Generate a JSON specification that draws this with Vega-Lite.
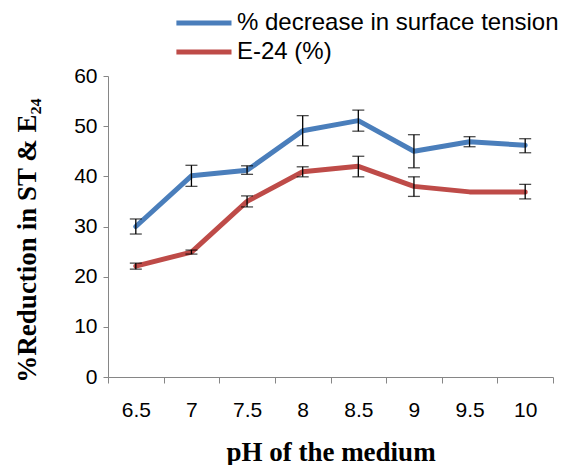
{
  "$schema": "https://vega.github.io/schema/vega-lite/v6.json",
  "width": 445,
  "height": 301,
  "autosize": "none",
  "padding": {"left": 108, "top": 76, "right": 10, "bottom": 88},
  "background": "white",
  "config": {"view": {"stroke": null}},
  "data": {
    "values": [
      {"pH": "6.5", "series": "% decrease in surface tension", "value": 30.0, "lo": 28.5, "hi": 31.5},
      {"pH": "7", "series": "% decrease in surface tension", "value": 40.1, "lo": 38.0, "hi": 42.2},
      {"pH": "7.5", "series": "% decrease in surface tension", "value": 41.2, "lo": 40.4, "hi": 42.1},
      {"pH": "8", "series": "% decrease in surface tension", "value": 49.1, "lo": 46.1, "hi": 52.1},
      {"pH": "8.5", "series": "% decrease in surface tension", "value": 51.1, "lo": 49.0, "hi": 53.2},
      {"pH": "9", "series": "% decrease in surface tension", "value": 45.0, "lo": 41.7, "hi": 48.3},
      {"pH": "9.5", "series": "% decrease in surface tension", "value": 46.9, "lo": 45.9, "hi": 47.9},
      {"pH": "10", "series": "% decrease in surface tension", "value": 46.2, "lo": 44.7, "hi": 47.5},
      {"pH": "6.5", "series": "E-24 (%)", "value": 22.1, "lo": 21.5, "hi": 22.7},
      {"pH": "7", "series": "E-24 (%)", "value": 24.9, "lo": 24.5, "hi": 25.3},
      {"pH": "7.5", "series": "E-24 (%)", "value": 35.0, "lo": 33.9, "hi": 36.1},
      {"pH": "8", "series": "E-24 (%)", "value": 40.9, "lo": 39.9, "hi": 41.9},
      {"pH": "8.5", "series": "E-24 (%)", "value": 42.0, "lo": 39.9, "hi": 44.0},
      {"pH": "9", "series": "E-24 (%)", "value": 38.0, "lo": 36.0, "hi": 39.9},
      {"pH": "9.5", "series": "E-24 (%)", "value": 36.9, "lo": null, "hi": null},
      {"pH": "10", "series": "E-24 (%)", "value": 36.9, "lo": 35.5, "hi": 38.4}
    ]
  },
  "encoding": {
    "x": {
      "field": "pH",
      "type": "ordinal",
      "sort": null,
      "scale": {"type": "band", "paddingInner": 0, "paddingOuter": 0},
      "axis": {
        "title": "pH of the medium",
        "titleFont": "Liberation Serif",
        "titleFontWeight": "bold",
        "titleFontSize": 27,
        "titleColor": "#000000",
        "titleBaseline": "middle",
        "titleY": 75,
        "labelAngle": 0,
        "labelFont": "Liberation Sans",
        "labelFontSize": 21,
        "labelColor": "#000000",
        "labelPadding": 16,
        "tickBand": "extent",
        "tickSize": 6,
        "tickColor": "#868686",
        "domainColor": "#868686",
        "grid": false
      }
    }
  },
  "layer": [
    {
      "mark": {"type": "line", "strokeWidth": 5, "strokeCap": "round", "strokeJoin": "round"},
      "encoding": {
        "y": {
          "field": "value",
          "type": "quantitative",
          "scale": {"domain": [0, 60]},
          "axis": {
            "title": "%Reduction in ST & E₂₄",
            "titleFont": "Liberation Serif",
            "titleFontWeight": "bold",
            "titleFontSize": 27,
            "titleColor": "#000000",
            "titleAngle": -90,
            "titleAlign": "center",
            "titleBaseline": "middle",
            "titleX": -81,
            "titleY": 164,
            "values": [0, 10, 20, 30, 40, 50, 60],
            "labelFont": "Liberation Sans",
            "labelFontSize": 21,
            "labelColor": "#000000",
            "labelPadding": 6,
            "tickSize": 5,
            "tickColor": "#868686",
            "domainColor": "#868686",
            "grid": false
          }
        },
        "color": {
          "field": "series",
          "type": "nominal",
          "sort": null,
          "scale": {"domain": ["% decrease in surface tension", "E-24 (%)"], "range": ["#4a7ebb", "#be4b48"]},
          "legend": {
            "title": null,
            "orient": "none",
            "legendX": 92,
            "legendY": -70,
            "symbolType": "M-2.8,0H1",
            "symbolSize": 841,
            "symbolStrokeWidth": 5,
            "symbolFillColor": "transparent",
            "labelFont": "Liberation Sans",
            "labelFontSize": 24,
            "labelColor": "#000000",
            "labelOffset": 3,
            "rowPadding": 0,
            "labelLimit": 400
          }
        }
      }
    },
    {
      "mark": {"type": "rule", "color": "#000000", "strokeWidth": 1.3},
      "encoding": {
        "y": {"field": "lo", "type": "quantitative"},
        "y2": {"field": "hi"}
      }
    },
    {
      "mark": {"type": "tick", "color": "#000000", "thickness": 1.3, "size": 12},
      "encoding": {"y": {"field": "lo", "type": "quantitative"}}
    },
    {
      "mark": {"type": "tick", "color": "#000000", "thickness": 1.3, "size": 12},
      "encoding": {"y": {"field": "hi", "type": "quantitative"}}
    }
  ]
}
